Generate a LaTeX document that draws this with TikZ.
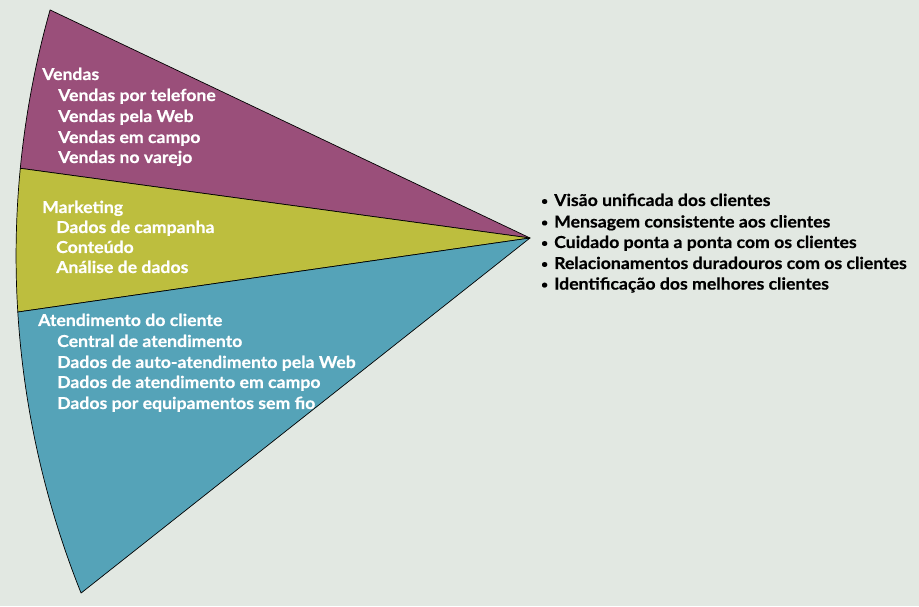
\documentclass[tikz,border=0pt]{standalone}
\usepackage{fontspec}
\setmainfont{Lato}[FakeStretch=1.07, BoldFeatures={FakeBold=0.5}]
\usetikzlibrary{calc}
\definecolor{bgc}{RGB}{226,232,226}
\definecolor{purp}{RGB}{154,79,122}
\definecolor{yel}{RGB}{189,190,62}
\definecolor{blu}{RGB}{85,163,184}
\newcommand{\smbul}{\makebox[13pt][l]{\raisebox{1.2pt}{\fontsize{11}{11}\selectfont\textbullet}}}
\begin{document}
\begin{tikzpicture}[x=1pt,y=1pt,
  lbl/.style={anchor=base west, inner sep=0pt, text=white, font=\fontsize{16.5}{18}\selectfont\bfseries},
  rlbl/.style={anchor=base west, inner sep=0pt, text=black, font=\fontsize{16.5}{18}\selectfont\bfseries},
  sector/.style={draw=black, line width=0.7pt, line join=round}]
\fill[bgc] (0,0) rectangle (919,606);
\useasboundingbox (0,0) rectangle (919,606);
\coordinate (C) at (922.3,350.07);
\coordinate (A) at (530,368);
\coordinate (T) at ($(C)+(164.25:906.3)$);
\coordinate (P) at ($(C)+(174.45:906.3)$);
\coordinate (Q) at ($(C)+(183.55:906.3)$);
\filldraw[sector, fill=purp] (A) -- (T) arc[start angle=164.25, end angle=174.45, radius=906.3] -- cycle;
\filldraw[sector, fill=yel] (A) -- (P) arc[start angle=174.45, end angle=183.55, radius=906.3] -- cycle;
\filldraw[sector, fill=blu] (A) -- (Q) arc[start angle=183.55, end angle=201.84, radius=906.3] -- cycle;
% Vendas
\node[lbl] (v0) at (42,526) {Vendas};
\node[lbl] (v1) at (58,505) {Vendas por telefone};
\node[lbl] (v2) at (58,484) {Vendas pela Web};
\node[lbl] (v3) at (58,463) {Vendas em campo};
\node[lbl] (v4) at (58,443) {Vendas no varejo};
% Marketing
\node[lbl] (m0) at (42,393) {Marketing};
\node[lbl] (m1) at (56,373) {Dados de campanha};
\node[lbl] (m2) at (56,353) {Conteúdo};
\node[lbl] (m3) at (56,333) {Análise de dados};
% Atendimento
\node[lbl] (a0) at (38,280) {Atendimento do cliente};
\node[lbl] (a1) at (57,259) {Central de atendimento};
\node[lbl] (a2) at (57,238) {Dados de auto-atendimento pela Web};
\node[lbl] (a3) at (57,218) {Dados de atendimento em campo};
\node[lbl] (a4) at (57,197) {Dados por equipamentos sem fio};
% right list
\node[rlbl] (r1) at (541,400) {\smbul Visão unificada dos clientes};
\node[rlbl] (r2) at (541,378.5) {\smbul Mensagem consistente aos clientes};
\node[rlbl] (r3) at (541,358) {\smbul Cuidado ponta a ponta com os clientes};
\node[rlbl] (r4) at (541,337) {\smbul Relacionamentos duradouros com os clientes};
\node[rlbl] (r5) at (541,316.4) {\smbul Identificação dos melhores clientes};
\end{tikzpicture}
\end{document}
